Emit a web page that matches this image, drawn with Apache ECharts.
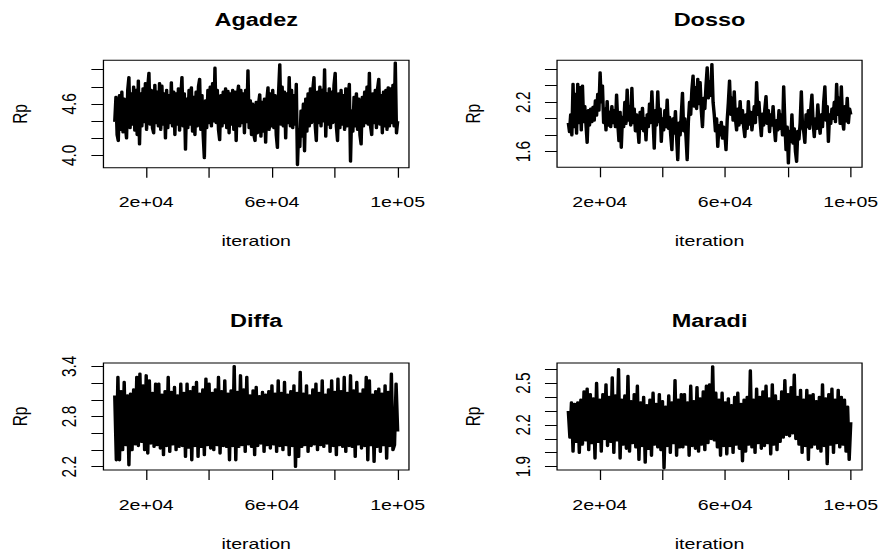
<!DOCTYPE html>
<html>
<head>
<meta charset="utf-8">
<script src="https://cdn.jsdelivr.net/npm/echarts@6/dist/echarts.min.js"></script>
<style>
  html, body { margin: 0; padding: 0; background: #fff; overflow: hidden; }
  /* the reference picture is stretched sideways, so the chart is drawn narrow and widened */
  #chart { width: 694px; height: 558px; transform: scaleX(1.2709); transform-origin: 0 0; }
</style>
</head>
<body>
<div id="chart"></div>
<script>
// iterations kept after burn-in
const iterStart = 10000;
const iterEnd = 100000;
const xLimits = [6400, 103600];
const xTicks = [20000, 40000, 60000, 80000, 100000];
const xTickLabels = [20000, 60000, 100000];

const regions = ['Agadez', 'Dosso', 'Diffa', 'Maradi'];

// trace values
const agadez = [4.39,4.68,4.24,4.17,4.70,4.30,4.74,4.27,4.66,4.34,
  4.20,4.76,4.91,4.32,4.72,4.36,4.80,4.29,4.76,4.24,
  4.87,4.13,4.72,4.34,4.78,4.39,4.84,4.30,4.80,4.96,
  4.36,4.76,4.32,4.26,4.82,4.38,4.74,4.34,4.84,4.30,
  4.81,4.36,4.72,4.20,4.76,4.32,4.70,4.38,4.85,4.34,
  4.74,4.24,4.72,4.36,4.78,4.29,4.68,4.91,4.34,4.72,
  4.07,4.66,4.32,4.76,4.36,4.79,4.28,4.68,4.24,4.74,
  4.34,4.80,4.89,4.30,4.70,4.24,3.97,4.64,4.32,4.76,
  4.38,4.80,4.34,4.84,4.40,5.02,4.38,4.76,4.30,4.18,
  4.70,4.34,4.74,4.38,4.78,4.32,4.75,4.26,4.72,4.36,
  4.76,4.30,4.74,4.17,4.70,4.81,4.34,4.76,4.38,4.72,
  4.26,4.76,4.39,4.99,4.32,4.64,4.24,4.60,4.24,4.17,
  4.62,4.26,4.60,4.71,4.22,4.62,4.28,4.66,4.15,4.64,
  4.79,4.30,4.72,4.34,4.76,4.32,4.70,4.24,4.09,4.74,
  5.06,4.36,4.80,4.34,4.74,4.20,4.72,4.38,4.91,4.34,
  4.76,4.32,4.70,4.36,4.83,3.89,4.30,4.10,4.52,4.22,
  4.60,4.05,4.66,4.28,4.72,4.34,4.78,4.38,4.76,4.91,
  4.36,4.17,4.74,4.38,4.80,4.34,4.76,4.40,5.00,4.22,
  4.72,4.36,4.78,4.32,4.74,4.38,4.82,4.96,4.34,4.17,
  4.72,4.32,4.76,4.36,4.70,4.30,4.78,4.34,4.68,4.83,
  3.93,4.52,4.28,4.68,4.34,4.72,4.30,4.66,4.24,4.13,
  4.68,4.34,4.74,4.38,4.80,4.36,4.96,4.34,4.24,4.72,
  4.38,4.76,4.32,4.78,4.89,4.36,4.70,4.26,4.74,4.34,
  4.76,4.30,4.79,4.34,4.78,4.38,4.82,4.34,5.08,4.26,
  4.40];

const dosso = [1.95,1.84,2.05,1.80,2.42,1.90,2.30,1.82,2.42,1.95,
  2.38,1.86,2.40,1.96,2.15,1.93,1.71,2.10,1.92,2.12,
  1.96,2.14,1.98,2.22,2.04,2.30,2.10,2.56,2.20,2.40,
  1.95,2.12,1.86,2.21,1.92,2.08,1.90,2.15,1.95,2.10,
  1.90,2.29,1.95,1.73,2.08,1.65,2.02,1.90,2.20,1.94,
  2.35,1.98,2.15,1.92,2.37,1.95,2.12,1.85,2.05,1.90,
  1.71,2.08,1.88,2.13,1.85,2.00,1.74,2.05,1.90,2.18,
  1.95,2.33,1.98,1.64,2.10,1.92,2.33,1.96,2.12,1.72,
  2.00,1.86,2.10,1.90,2.23,1.88,2.02,1.80,1.62,2.00,
  1.82,2.09,1.78,1.50,1.95,1.80,2.05,2.31,1.85,2.00,
  1.78,1.50,1.96,2.20,2.05,2.35,2.52,2.15,2.38,2.12,
  2.48,2.18,2.44,2.10,1.90,2.25,2.12,2.40,2.62,2.25,
  2.45,2.28,2.66,2.20,2.05,1.85,2.00,1.66,1.92,1.80,
  1.96,1.76,1.90,1.82,1.62,1.98,2.20,2.46,2.05,2.25,
  1.98,2.33,2.00,1.86,2.12,1.92,2.21,1.95,2.10,1.90,
  1.78,2.05,1.88,2.21,1.93,2.08,1.86,2.00,2.15,1.95,
  2.44,2.05,2.20,1.97,1.79,2.06,1.92,2.12,2.27,1.94,
  2.10,1.84,2.05,1.92,2.15,1.90,1.73,1.98,1.86,2.10,
  1.88,2.05,1.80,2.39,1.95,1.62,1.90,1.46,1.85,1.72,
  2.05,1.70,1.88,1.60,1.48,1.85,1.75,1.95,2.33,1.90,
  1.85,1.71,2.05,1.90,2.10,1.88,2.12,2.29,1.95,1.78,
  2.00,1.88,2.17,1.95,1.82,2.05,1.90,2.20,2.39,1.98,
  2.15,1.72,2.05,1.94,2.12,2.00,2.20,1.96,2.42,2.05,
  2.25,1.94,2.39,1.98,1.87,2.15,1.97,2.25,1.95,2.12,
  2.05];

const diffa = [3.05,2.28,3.27,2.28,3.10,2.40,3.21,2.46,3.05,2.22,
  3.07,2.40,3.12,2.47,3.27,2.45,3.31,2.50,3.17,2.40,
  3.29,2.36,3.23,2.48,3.08,2.44,3.19,2.46,3.19,2.42,
  3.06,2.34,3.10,2.45,3.27,2.38,3.09,2.47,3.15,2.40,
  3.05,2.44,3.19,2.45,3.08,2.32,3.19,2.43,3.10,2.28,
  3.15,2.45,3.21,2.32,3.07,2.44,3.12,2.34,3.25,2.46,
  3.19,2.42,3.08,2.40,3.12,2.46,3.27,2.36,3.10,2.45,
  3.23,2.44,3.07,2.28,3.11,2.45,3.40,2.28,3.09,2.44,
  3.29,2.46,3.12,2.38,3.27,2.47,3.05,2.44,3.11,2.34,
  3.15,2.45,3.04,2.48,3.09,2.38,3.06,2.46,3.10,2.42,
  3.17,2.47,3.07,2.38,3.23,2.45,3.08,2.40,3.21,2.46,
  3.06,2.34,3.10,2.45,3.17,2.20,3.08,2.32,3.33,2.44,
  3.07,2.46,3.17,2.38,3.05,2.45,3.12,2.47,3.19,2.40,
  3.08,2.46,3.23,2.44,3.06,2.48,3.12,2.38,3.23,2.45,
  3.09,2.34,3.25,2.46,3.10,2.44,3.27,2.38,3.08,2.45,
  3.29,2.44,3.11,2.32,3.21,2.47,3.07,2.42,3.12,2.45,
  3.27,2.28,3.23,2.46,3.06,2.26,3.10,2.44,3.13,2.38,
  3.07,2.46,3.17,2.30,3.09,2.45,3.31,2.40,2.46,3.19,
  2.62];

const maradi = [2.30,2.11,2.36,2.01,2.35,2.08,2.36,2.00,2.38,2.06,
  2.44,2.09,2.46,2.02,2.42,2.07,2.39,1.96,2.50,2.08,
  2.38,2.01,2.42,2.10,2.49,2.05,2.40,2.08,2.54,2.00,
  2.41,2.09,2.60,1.96,2.38,2.06,2.41,2.03,2.55,2.01,
  2.37,2.07,2.42,2.04,2.48,1.95,2.36,2.05,2.40,1.93,
  2.34,2.03,2.38,1.98,2.43,2.06,2.35,2.04,2.42,2.02,
  2.37,1.89,2.33,2.05,2.41,2.00,2.36,2.07,2.52,1.98,
  2.38,2.04,2.42,2.04,2.42,2.06,2.36,1.98,2.48,2.05,
  2.37,2.03,2.47,2.01,2.39,2.06,2.44,2.02,2.48,2.07,
  2.49,2.10,2.62,2.09,2.43,2.04,2.38,1.98,2.43,2.05,
  2.36,1.99,2.39,2.05,2.34,2.00,2.40,2.06,2.43,2.03,
  2.35,1.94,2.38,2.01,2.40,2.06,2.59,2.04,2.38,2.00,
  2.46,2.07,2.40,2.03,2.44,2.05,2.48,2.07,2.39,1.99,
  2.49,2.06,2.41,2.02,2.37,2.08,2.44,2.11,2.52,2.13,
  2.42,2.12,2.47,2.14,2.56,2.10,2.40,2.06,2.45,2.00,
  2.38,2.05,2.45,1.95,2.41,2.04,2.42,2.06,2.37,2.03,
  2.40,2.01,2.49,2.05,2.39,1.92,2.42,2.06,2.46,2.00,
  2.38,2.07,2.45,2.04,2.40,2.06,2.38,2.01,2.33,1.95,
  2.22];

const traces = [agadez, dosso, diffa, maradi];

// y axis ranges, ticks and labelled ticks per panel
const yLimits = [[3.856, 5.11], [1.41, 2.71], [2.161, 3.439], [1.876, 2.645]];
const yTicks = [
  [4.0, 4.2, 4.4, 4.6, 4.8, 5.0],
  [1.6, 1.8, 2.0, 2.2, 2.4, 2.6],
  [2.2, 2.4, 2.6, 2.8, 3.0, 3.2, 3.4],
  [1.9, 2.0, 2.1, 2.2, 2.3, 2.4, 2.5, 2.6]
];
const yTickLabels = [[4.0, 4.6], [1.6, 2.2], [2.2, 2.8, 3.4], [1.9, 2.2, 2.5]];

// panel boxes (before the sideways stretch)
const panels = [
  { left: 81.4, top: 60.2, width: 240.4, height: 107.5 },
  { left: 438.3, top: 60.2, width: 240.0, height: 107.1 },
  { left: 81.4, top: 363, width: 240.4, height: 107 },
  { left: 438.3, top: 363, width: 240.0, height: 107 }
];

const FONT = 'Liberation Sans, Arial, Helvetica, sans-serif';

function sciLabel(v) {
  const e = Math.floor(Math.log10(v) + 1e-9);
  const m = Math.round(v / Math.pow(10, e));
  return m + 'e+' + String(e).padStart(2, '0');
}

function traceData(values) {
  const step = (iterEnd - iterStart) / (values.length - 1);
  return values.map((v, i) => [iterStart + i * step, v]);
}

const chart = echarts.init(document.getElementById('chart'), null, { renderer: 'svg' });

const option = {
  animation: false,
  backgroundColor: '#fff',
  title: panels.map((p, i) => ({
    text: regions[i],
    left: p.left + p.width / 2,
    top: i < 2 ? 10 : 311,
    textAlign: 'center',
    padding: 0,
    textStyle: { fontFamily: FONT, fontSize: 18.5, fontWeight: 'bold', color: '#000' }
  })),
  grid: panels.map(p => ({
    left: p.left, top: p.top, width: p.width, height: p.height,
    show: true, borderColor: '#000', borderWidth: 1, backgroundColor: 'transparent',
    containLabel: false, outerBoundsMode: 'none'
  })),
  xAxis: panels.map((p, i) => ({
    type: 'value',
    gridIndex: i,
    min: xLimits[0],
    max: xLimits[1],
    name: 'iteration',
    nameLocation: 'middle',
    nameGap: 66,
    nameTextStyle: { fontFamily: FONT, fontSize: 15.4, color: '#000' },
    axisLine: { show: false },
    splitLine: { show: false },
    axisTick: { show: true, customValues: xTicks, length: 10, lineStyle: { color: '#000', width: 1 } },
    axisLabel: {
      customValues: xTickLabels, margin: 27, color: '#000',
      fontFamily: FONT, fontSize: 15.4, formatter: sciLabel
    }
  })),
  yAxis: panels.map((p, i) => ({
    type: 'value',
    gridIndex: i,
    min: yLimits[i][0],
    max: yLimits[i][1],
    name: 'Rp',
    nameLocation: 'middle',
    nameGap: 58,
    nameRotate: 90,
    nameTextStyle: { fontFamily: FONT, fontSize: 15.4, color: '#000' },
    axisLine: { show: false },
    splitLine: { show: false },
    axisTick: { show: true, customValues: yTicks[i], length: 9.5, lineStyle: { color: '#000', width: 1 } },
    axisLabel: {
      customValues: yTickLabels[i], rotate: 90, margin: 19, color: '#000',
      fontFamily: FONT, fontSize: 15.4, formatter: v => v.toFixed(1)
    }
  })),
  series: traces.map((t, i) => ({
    type: 'line',
    xAxisIndex: i,
    yAxisIndex: i,
    data: traceData(t),
    showSymbol: false,
    symbol: 'none',
    silent: true,
    lineStyle: { color: '#000', width: 2.7, join: 'round' }
  }))
};

chart.setOption(option);
</script>
</body>
</html>
